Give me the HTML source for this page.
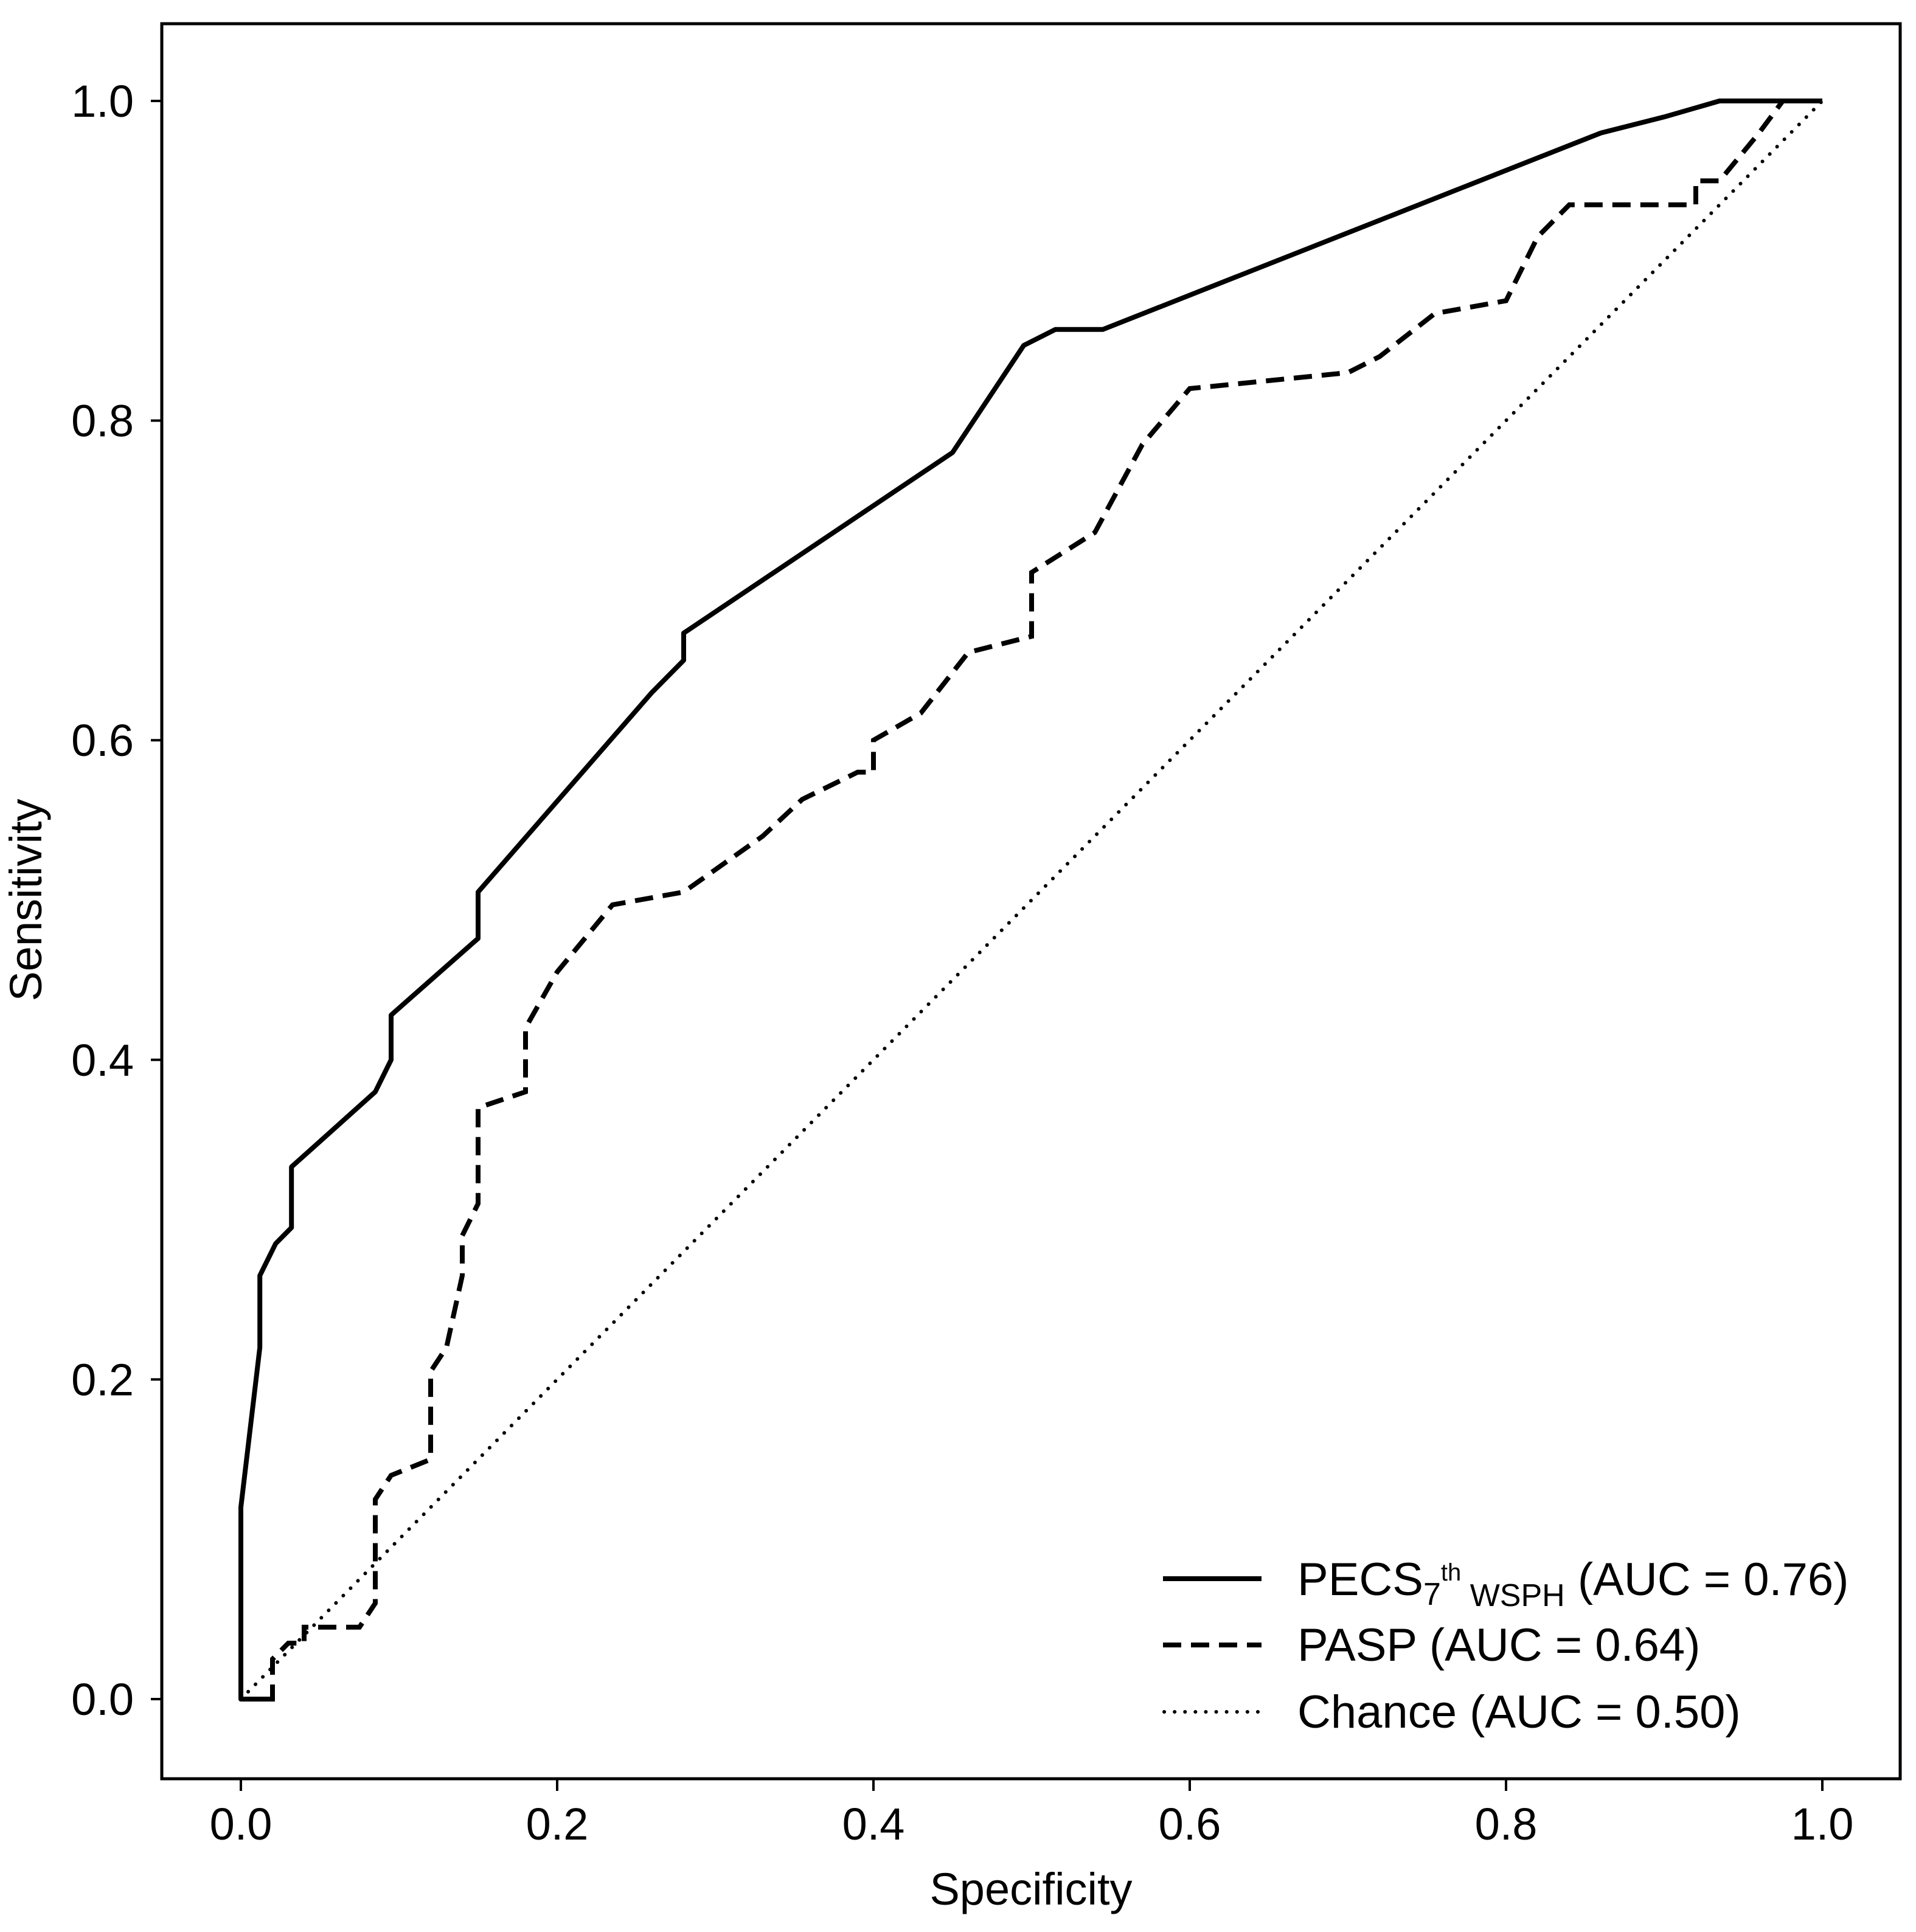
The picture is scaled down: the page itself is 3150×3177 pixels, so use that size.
<!DOCTYPE html>
<html><head><meta charset="utf-8"><style>body{margin:0;background:#fff}svg{display:block}text{font-family:"Liberation Sans",sans-serif;fill:#000}</style></head>
<body>
<svg id="chart" width="3150" height="3177" viewBox="0 0 3150 3177" xmlns="http://www.w3.org/2000/svg">
<g id="plot"></g>
</svg>
<script>
const xTicks=[0,0.2,0.4,0.6,0.8,1.0];
const yTicks=[0,0.2,0.4,0.6,0.8,1.0];
const tickLabels=["0.0","0.2","0.4","0.6","0.8","1.0"];
const pecsX=[0.02,0,0,0.012,0.012,0.022,0.032,0.032,0.085,0.095,0.095,0.15,0.15,0.26,0.28,0.28,0.45,0.495,0.515,0.545,0.86,0.9,0.935,1];
const pecsY=[0,0,0.12,0.22,0.265,0.285,0.295,0.333,0.38,0.4,0.428,0.476,0.505,0.63,0.65,0.667,0.78,0.847,0.857,0.857,0.98,0.99,1.0,1.0];
const paspX=[0,0.02,0.02,0.03,0.04,0.04,0.075,0.085,0.085,0.095,0.12,0.12,0.13,0.14,0.14,0.15,0.15,0.18,0.18,0.2,0.235,0.28,0.33,0.355,0.39,0.4,0.4,0.43,0.46,0.5,0.5,0.54,0.57,0.6,0.7,0.72,0.755,0.8,0.82,0.84,0.92,0.92,0.935,0.96,0.975,1];
const paspY=[0,0,0.025,0.035,0.035,0.045,0.045,0.06,0.125,0.14,0.15,0.205,0.22,0.265,0.29,0.31,0.37,0.38,0.42,0.455,0.497,0.505,0.54,0.563,0.58,0.58,0.6,0.617,0.655,0.665,0.705,0.73,0.785,0.82,0.83,0.84,0.867,0.875,0.915,0.935,0.935,0.95,0.95,0.98,1.0,1.0];
const chanceX=[0,1];
const chanceY=[0,1];
const legendLabels=["PASP (AUC = 0.64)","Chance (AUC = 0.50)"];

const X=v=>396+v*2600;
const Y=v=>2794-v*2628;
const NS="http://www.w3.org/2000/svg";
const g=document.getElementById('plot');
function mk(t,a){const e=document.createElementNS(NS,t);for(const k in a)e.setAttribute(k,a[k]);g.appendChild(e);return e;}

const frame=mk('rect',{x:266,y:39,width:2858,height:2886,fill:'none',stroke:'#000','stroke-width':5});



xTicks.forEach((v,i)=>{
  const t=mk('line',{x1:X(v),x2:X(v),y1:2927,y2:2945,stroke:'#000','stroke-width':4});
  
  
  const l=mk('text',{x:X(v),y:3025,'font-size':74,'text-anchor':'middle'});l.textContent=tickLabels[i];
  
  
});
yTicks.forEach((v,i)=>{
  const t=mk('line',{x1:248,x2:266,y1:Y(v),y2:Y(v),stroke:'#000','stroke-width':4});
  
  
  const l=mk('text',{x:220,y:Y(v)+26,'font-size':74,'text-anchor':'end'});l.textContent=tickLabels[i];
  
  
});
const xl=mk('text',{x:1695,y:3132,'font-size':74,'text-anchor':'middle'});xl.textContent='Specificity';


const yl=mk('text',{x:0,y:0,'font-size':74,'text-anchor':'middle',transform:'translate(68,1480) rotate(-90)'});yl.textContent='Sensitivity';



function path(xs,ys){return xs.map((x,i)=>(i?'L':'M')+X(x).toFixed(1)+' '+Y(ys[i]).toFixed(1)).join(' ');}
const ch=mk('path',{d:path(chanceX,chanceY),fill:'none',stroke:'#000','stroke-width':6,'stroke-dasharray':'0.1 17','stroke-linecap':'round'});


const pa=mk('path',{d:path(paspX,paspY),fill:'none',stroke:'#000','stroke-width':8,'stroke-dasharray':'30 16'});


const pe=mk('path',{d:path(pecsX,pecsY),fill:'none',stroke:'#000','stroke-width':8,'stroke-linejoin':'round'});



// legend
const l1=mk('line',{x1:1912,x2:2074,y1:2596,y2:2596,stroke:'#000','stroke-width':8});


const t1=mk('text',{x:2133,y:2623,'font-size':76});
t1.innerHTML='PECS<tspan font-size="52" dy="16">7</tspan><tspan font-size="40" dy="-40">th</tspan><tspan font-size="52" dy="42"> WSPH</tspan><tspan dy="-18"> (AUC = 0.76)</tspan>';


const l2=mk('line',{x1:1912,x2:2074,y1:2705,y2:2705,stroke:'#000','stroke-width':8,'stroke-dasharray':'30 16'});


const t2=mk('text',{x:2133,y:2731,'font-size':76});t2.textContent=legendLabels[0];


const l3=mk('line',{x1:1914,x2:2074,y1:2815,y2:2815,stroke:'#000','stroke-width':6,'stroke-dasharray':'0.1 17','stroke-linecap':'round'});


const t3=mk('text',{x:2133,y:2841,'font-size':76});t3.textContent=legendLabels[1];


</script>
</body></html>
